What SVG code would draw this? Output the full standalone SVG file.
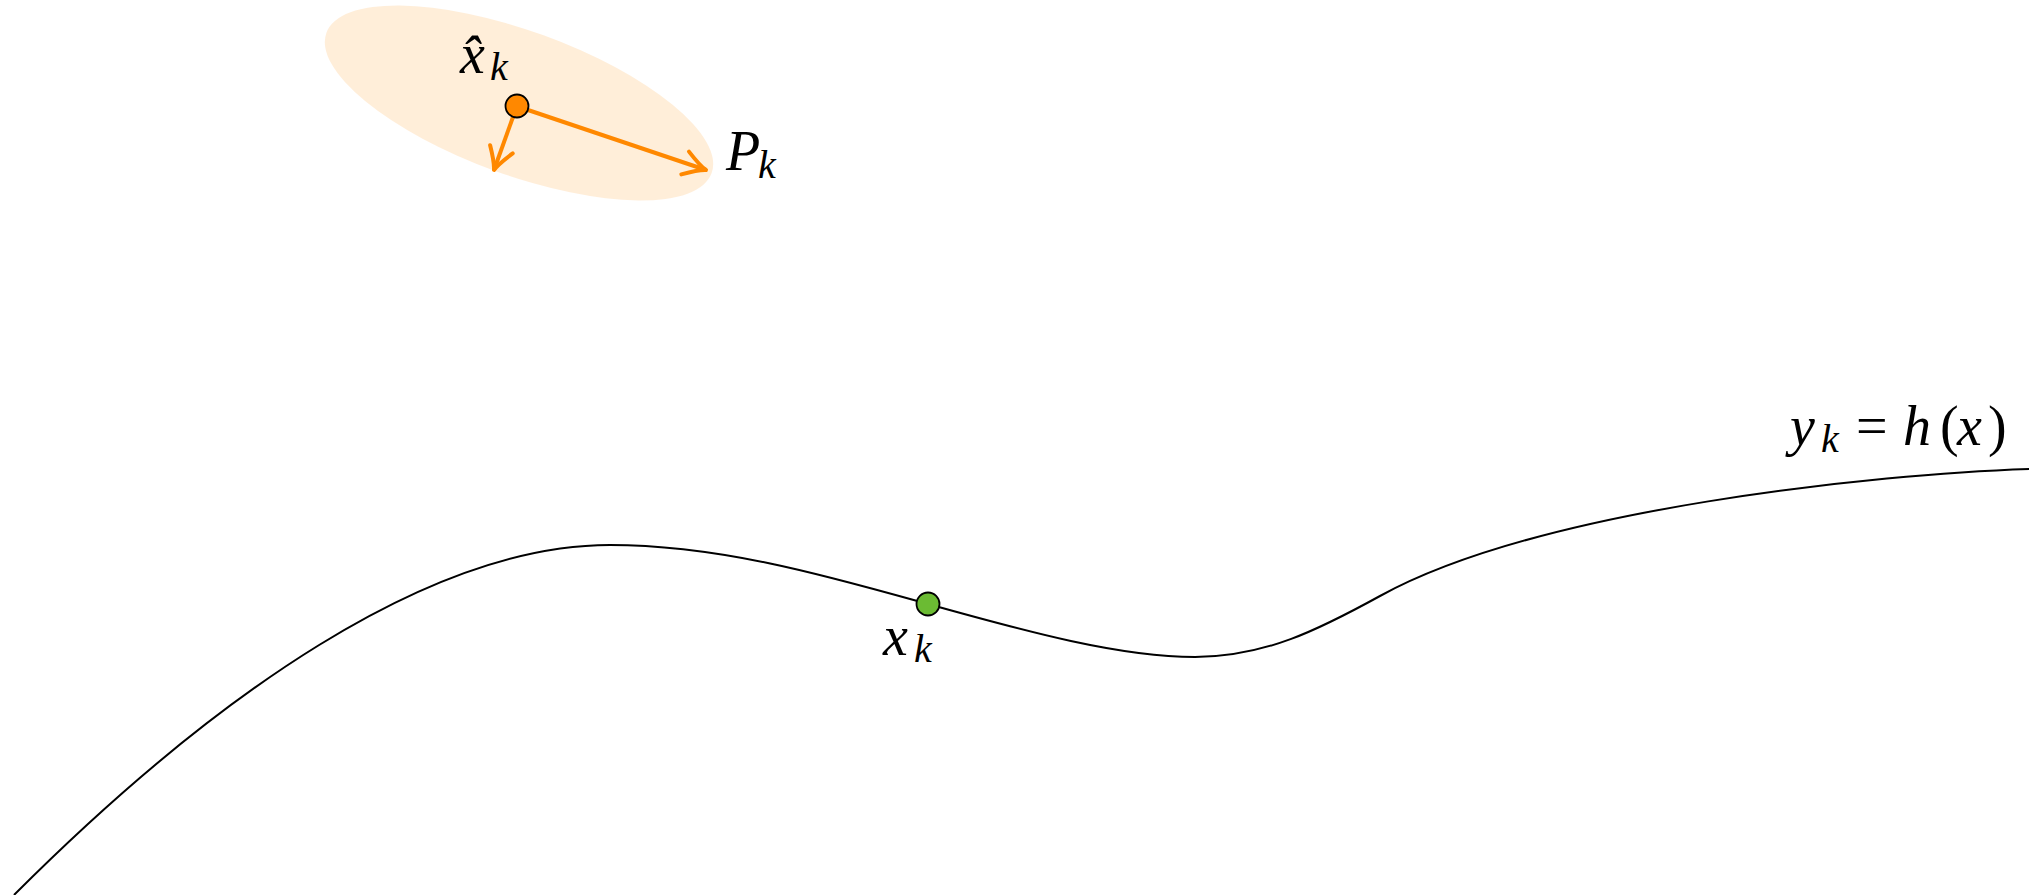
<svg xmlns="http://www.w3.org/2000/svg" width="2033" height="895" viewBox="0 0 2033 895">
<style>
.lbl{font-family:"Liberation Serif","DejaVu Serif",serif;font-style:italic;fill:#000}
.big{font-size:56px}
.sub{font-size:40px}
.rm{font-family:"Liberation Serif","DejaVu Serif",serif;font-style:normal;font-size:56px;fill:#000}
.arr{stroke:#ff8800;stroke-width:4;fill:none;marker-end:url(#ah)}
.dot{stroke:#000;stroke-width:1.8}
</style>
<defs>
<marker id="ah" markerUnits="userSpaceOnUse" orient="auto" markerWidth="40" markerHeight="40" refX="0" refY="0" viewBox="-30 -20 34 40" overflow="visible">
<path d="M -22,-12 Q -7,-2 0,0 Q -7,2 -22,12" stroke="#ff8800" stroke-width="4" fill="none" stroke-linecap="round" stroke-linejoin="round"/>
</marker>
</defs>
<g id="covariance">
<ellipse cx="519" cy="103" rx="205" ry="72" transform="rotate(20 519 103)" fill="#ff8c00" fill-opacity="0.15"/>
</g>
<g id="connectors">
<path id="curve" d="M14,895 C214,695 429,545 610,545 C720,545 828,576 928,604 C1028,632 1120,657 1195,657 C1265,657 1320,629 1380,596 C1540,508 1879,474 2029,469" stroke="#000" stroke-width="2" fill="none"/>
<line class="arr" x1="528" y1="110" x2="706" y2="170"/>
<line class="arr" x1="513" y1="117" x2="494" y2="170"/>
</g>
<g id="xhat">
<circle class="dot" cx="517" cy="106" r="11.5" fill="#ff8800"/>
<text class="lbl big" x="460" y="73">x̂</text>
<text class="lbl sub" x="490" y="80">k</text>
</g>
<g id="Pk">
<text class="lbl big" x="726" y="170">P</text>
<text class="lbl sub" x="758" y="178">k</text>
</g>
<g id="xk">
<circle class="dot" cx="928" cy="604" r="11.5" fill="#6bbb33"/>
<text class="lbl big" x="883" y="655">x</text>
<text class="lbl sub" x="914" y="662">k</text>
</g>
<g id="hlabel">
<text class="lbl big" x="1790" y="445">y</text>
<text class="lbl sub" x="1821" y="452">k</text>
<text class="rm" x="1856" y="445">=</text>
<text class="lbl big" x="1903" y="445">h</text>
<text class="rm" x="1940" y="445">(</text>
<text class="lbl big" x="1957" y="445">x</text>
<text class="rm" x="1988" y="445">)</text>
</g>
</svg>
